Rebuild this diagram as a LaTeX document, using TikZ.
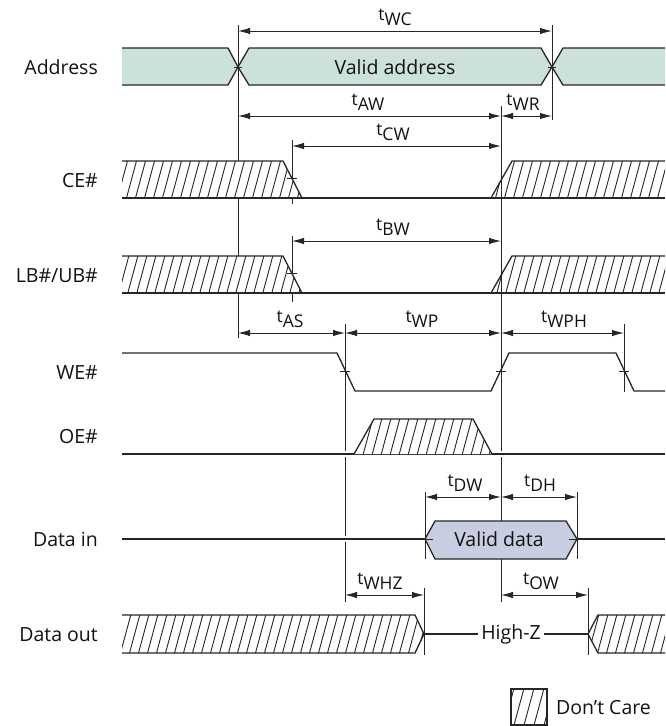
\documentclass[tikz,border=0pt]{standalone}
\usepackage{fontspec}
\setmainfont{Open Sans}
\usetikzlibrary{arrows.meta}
\definecolor{linec}{HTML}{262626}
\definecolor{txtc}{HTML}{111111}
\definecolor{addrfill}{HTML}{CDE1DC}
\definecolor{datafill}{HTML}{C8CDE1}
\newcommand\hatchin[2][9]{%
  \begin{scope}
    \clip #2;
    \foreach \hi in {0,...,120} \draw[hatchln] (-200+\hi*#1,740) -- ++(200,-740);
  \end{scope}}
\begin{document}
\begin{tikzpicture}[x=1pt,y=-1pt,
  sig/.style={draw=linec, line width=1.3pt, line join=miter},
  refl/.style={draw=linec, line width=1pt},
  hatchln/.style={draw=linec, line width=0.9pt},
  halo/.style={preaction={draw=white, line width=6pt}},
  dim/.style={draw=linec, line width=1pt, {Latex[length=12pt,width=6.5pt]}-{Latex[length=12pt,width=6.5pt]}},
  lbl/.style={font=\fontsize{19.5}{22}\selectfont, text=txtc, anchor=base east, inner sep=0pt},
  tl/.style={font=\fontsize{17.5}{20}\selectfont, text=txtc, anchor=south, inner sep=0pt},
  mid/.style={font=\fontsize{19.5}{22}\selectfont, text=txtc, inner sep=0pt}]
\useasboundingbox (0,0) rectangle (665,726);

% reference lines
\draw[refl] (238,25) -- (238,338);
\draw[refl] (552,25) -- (552,120);
\draw[refl] (292,140) -- (292,204);
\draw[refl] (292,236) -- (292,302);
\draw[refl] (345,324) -- (345,602);
\draw[refl] (624,324) -- (624,392);

% dimension arrows
\draw[dim] (238,31) -- (552,31);
\draw[dim] (238,116) -- (501,116);
\draw[dim] (501,116) -- (552,116);
\draw[dim] (292,146) -- (501,146);
\draw[dim] (292,241) -- (501,241);
\draw[dim] (238,333) -- (345,333);
\draw[dim] (345,333) -- (501,333);
\draw[dim] (501,333) -- (624,333);
\draw[dim] (425,497) -- (501,497);
\draw[dim] (501,497) -- (577,497);
\draw[dim] (345,595) -- (424,595);
\draw[dim] (501,595) -- (588,595);

% Address bus
\fill[addrfill] (122,48) -- (228,48) -- (238,67) -- (228,85) -- (122,85) -- cycle;
\draw[sig] (122,48) -- (228,48) -- (238,67) -- (228,85) -- (122,85);
\draw[sig, fill=addrfill] (238,67) -- (249,48) -- (541,48) -- (552,67) -- (541,85) -- (249,85) -- cycle;
\fill[addrfill] (665,48) -- (563,48) -- (552,67) -- (563,85) -- (665,85) -- cycle;
\draw[sig] (665,48) -- (563,48) -- (552,67) -- (563,85) -- (665,85);
\draw[refl] (234,67) -- (242,67);
\draw[refl] (548,67) -- (556,67);

% CE#
\fill[white] (122,161) -- (283,161) -- (302,198) -- (122,198) -- cycle;
\hatchin{(122,161) -- (283,161) -- (302,198) -- (122,198) -- cycle}
\fill[white] (491,198) -- (512,161) -- (665,161) -- (665,198) -- cycle;
\hatchin{(491,198) -- (512,161) -- (665,161) -- (665,198) -- cycle}
\draw[sig] (122,161) -- (283,161) -- (302,198);
\draw[sig] (122,198) -- (665,198);
\draw[sig] (491,198) -- (512,161) -- (665,161);
\draw[refl] (287,178) -- (297,178);

% LB#/UB#
\fill[white] (122,256) -- (283,256) -- (302,293) -- (122,293) -- cycle;
\hatchin{(122,256) -- (283,256) -- (302,293) -- (122,293) -- cycle}
\fill[white] (491,293) -- (512,256) -- (665,256) -- (665,293) -- cycle;
\hatchin{(491,293) -- (512,256) -- (665,256) -- (665,293) -- cycle}
\draw[sig] (122,256) -- (283,256) -- (302,293);
\draw[sig] (122,293) -- (665,293);
\draw[sig] (491,293) -- (512,256) -- (665,256);
\draw[refl] (287,273) -- (297,273);

% central reference line
\draw[refl] (501,106) -- (501,602);

% WE#
\draw[sig] (122,353) -- (337,353) -- (355,391) -- (491,391) -- (509,353) -- (616,353) -- (634,391) -- (665,391);
\draw[refl] (340,371) -- (350,371);
\draw[refl] (496,371) -- (506,371);
\draw[refl] (619,371) -- (629,371);

% OE#
\draw[sig, halo] (122,454) -- (665,454);
\fill[white] (354,454) -- (374,419) -- (473,419) -- (492,454) -- cycle;
\hatchin{(354,454) -- (374,419) -- (473,419) -- (492,454) -- cycle}
\draw[sig] (354,454) -- (374,419) -- (473,419) -- (492,454);

% Data in
\draw[sig, halo] (122,539) -- (425,539);
\draw[sig, halo] (577,539) -- (665,539);
\draw[sig, fill=datafill] (425,539) -- (435,521) -- (566,521) -- (577,539) -- (566,559) -- (435,559) -- cycle;
\draw[refl] (425,492) -- (425,559);
\draw[refl] (577,492) -- (577,559);
\draw[refl] (425,539) -- (433,539);
\draw[refl] (569,539) -- (577,539);

% Data out
\fill[white] (122,615) -- (415,615) -- (424,634) -- (415,653) -- (122,653) -- cycle;
\hatchin{(122,615) -- (415,615) -- (424,634) -- (415,653) -- (122,653) -- cycle}
\draw[sig] (122,615) -- (415,615) -- (424,634) -- (415,653) -- (122,653);
\fill[white] (665,615) -- (598,615) -- (588,634) -- (598,653) -- (665,653) -- cycle;
\hatchin{(665,615) -- (598,615) -- (588,634) -- (598,653) -- (665,653) -- cycle}
\draw[sig] (665,615) -- (598,615) -- (588,634) -- (598,653) -- (665,653);
\draw[sig] (424,634) -- (588,634);
\draw[refl] (424,588) -- (424,655);
\draw[refl] (588,588) -- (588,655);
\node[mid, fill=white, inner xsep=3pt, inner ysep=2pt] (hiz) at (511,634) {High-Z};

% legend
\fill[white] (511,689) rectangle (547,725);
\hatchin[10]{(511,689) rectangle (547,725)}
\draw[sig] (511,689) rectangle (547,725);
\node[mid, anchor=base west] (dc) at (556,714) {Don’t Care};

% texts
\node[mid, anchor=base] (va) at (395,74) {Valid address};
\node[mid, anchor=base] (vd) at (499,546) {Valid data};

\node[lbl] (l1) at (98,74) {Address};
\node[lbl] (l2) at (98,187) {CE\#};
\node[lbl] (l3) at (98,282) {LB\#/UB\#};
\node[lbl] (l4) at (98,379) {WE\#};
\node[lbl] (l5) at (98,443) {OE\#};
\node[lbl] (l6) at (98,546) {Data in};
\node[lbl] (l7) at (98,641) {Data out};

\node[tl] (t1) at (395,26) {t\raisebox{-5pt}{WC}};
\node[tl] (t2) at (368,111) {t\raisebox{-5pt}{AW}};
\node[tl] (t3) at (523,111) {t\raisebox{-5pt}{WR}};
\node[tl] (t4) at (393,141) {t\raisebox{-5pt}{CW}};
\node[tl] (t5) at (393,236) {t\raisebox{-5pt}{BW}};
\node[tl] (t6) at (290,328) {t\raisebox{-5pt}{AS}};
\node[tl] (t7) at (422,328) {t\raisebox{-5pt}{WP}};
\node[tl] (t8) at (564,328) {t\raisebox{-5pt}{WPH}};
\node[tl] (t9) at (465,492) {t\raisebox{-5pt}{DW}};
\node[tl] (t10) at (540,492) {t\raisebox{-5pt}{DH}};
\node[tl] (t11) at (380,590) {t\raisebox{-5pt}{WHZ}};
\node[tl] (t12) at (541,590) {t\raisebox{-5pt}{OW}};
\end{tikzpicture}
\end{document}
